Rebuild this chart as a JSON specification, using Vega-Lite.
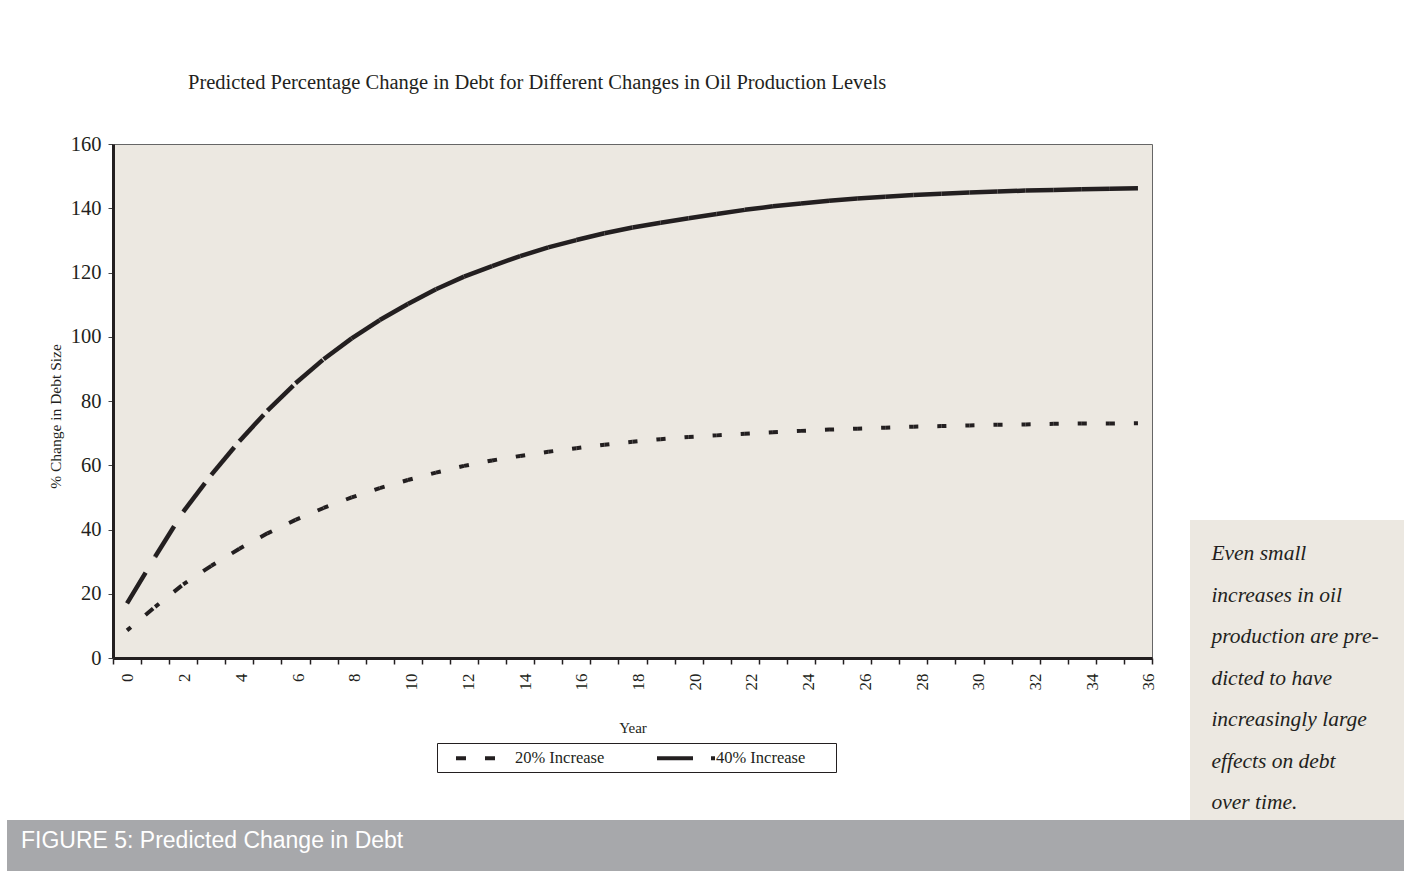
{
  "$schema": "https://vega.github.io/schema/vega-lite/v6.json",
  "background": "white",
  "padding": {"left": 7, "top": 72, "right": 0, "bottom": 0},
  "config": {"view": {"stroke": null}, "font": "Liberation Serif"},
  "spacing": 0,
  "vconcat": [
    {
      "spacing": 32,
      "hconcat": [
        {
          "width": 1039,
          "height": 514,
          "view": {"fill": "#ece8e1", "stroke": "#666666", "strokeWidth": 1},
          "title": {"text": "Predicted Percentage Change in Debt for Different Changes in Oil Production Levels", "anchor": "start", "frame": "group", "dx": 75, "offset": 41, "font": "Liberation Serif", "fontSize": 20.5, "fontWeight": "normal", "color": "#231f20"},
          "data": {"values": [
            {"series": "20% Increase", "year": 0, "value": 8.6},
            {"series": "20% Increase", "year": 1, "value": 15.9},
            {"series": "20% Increase", "year": 2, "value": 22.9},
            {"series": "20% Increase", "year": 3, "value": 28.7},
            {"series": "20% Increase", "year": 4, "value": 34.0},
            {"series": "20% Increase", "year": 5, "value": 38.8},
            {"series": "20% Increase", "year": 6, "value": 43.0},
            {"series": "20% Increase", "year": 7, "value": 46.7},
            {"series": "20% Increase", "year": 8, "value": 50.0},
            {"series": "20% Increase", "year": 9, "value": 52.9},
            {"series": "20% Increase", "year": 10, "value": 55.4},
            {"series": "20% Increase", "year": 11, "value": 57.7},
            {"series": "20% Increase", "year": 12, "value": 59.8},
            {"series": "20% Increase", "year": 13, "value": 61.5},
            {"series": "20% Increase", "year": 14, "value": 62.9},
            {"series": "20% Increase", "year": 15, "value": 64.2},
            {"series": "20% Increase", "year": 16, "value": 65.3},
            {"series": "20% Increase", "year": 17, "value": 66.4},
            {"series": "20% Increase", "year": 18, "value": 67.3},
            {"series": "20% Increase", "year": 19, "value": 68.1},
            {"series": "20% Increase", "year": 20, "value": 68.8},
            {"series": "20% Increase", "year": 21, "value": 69.3},
            {"series": "20% Increase", "year": 22, "value": 69.8},
            {"series": "20% Increase", "year": 23, "value": 70.3},
            {"series": "20% Increase", "year": 24, "value": 70.7},
            {"series": "20% Increase", "year": 25, "value": 71.1},
            {"series": "20% Increase", "year": 26, "value": 71.4},
            {"series": "20% Increase", "year": 27, "value": 71.7},
            {"series": "20% Increase", "year": 28, "value": 72.0},
            {"series": "20% Increase", "year": 29, "value": 72.2},
            {"series": "20% Increase", "year": 30, "value": 72.4},
            {"series": "20% Increase", "year": 31, "value": 72.6},
            {"series": "20% Increase", "year": 32, "value": 72.7},
            {"series": "20% Increase", "year": 33, "value": 72.9},
            {"series": "20% Increase", "year": 34, "value": 73.0},
            {"series": "20% Increase", "year": 35, "value": 73.0},
            {"series": "20% Increase", "year": 36, "value": 73.1},
            {"series": "40% Increase", "year": 0, "value": 17.0},
            {"series": "40% Increase", "year": 1, "value": 31.5},
            {"series": "40% Increase", "year": 2, "value": 45.5},
            {"series": "40% Increase", "year": 3, "value": 57.0},
            {"series": "40% Increase", "year": 4, "value": 67.5},
            {"series": "40% Increase", "year": 5, "value": 77.0},
            {"series": "40% Increase", "year": 6, "value": 85.5},
            {"series": "40% Increase", "year": 7, "value": 93.0},
            {"series": "40% Increase", "year": 8, "value": 99.5},
            {"series": "40% Increase", "year": 9, "value": 105.2},
            {"series": "40% Increase", "year": 10, "value": 110.2},
            {"series": "40% Increase", "year": 11, "value": 114.8},
            {"series": "40% Increase", "year": 12, "value": 118.7},
            {"series": "40% Increase", "year": 13, "value": 122.0},
            {"series": "40% Increase", "year": 14, "value": 125.1},
            {"series": "40% Increase", "year": 15, "value": 127.8},
            {"series": "40% Increase", "year": 16, "value": 130.1},
            {"series": "40% Increase", "year": 17, "value": 132.2},
            {"series": "40% Increase", "year": 18, "value": 134.0},
            {"series": "40% Increase", "year": 19, "value": 135.5},
            {"series": "40% Increase", "year": 20, "value": 136.9},
            {"series": "40% Increase", "year": 21, "value": 138.2},
            {"series": "40% Increase", "year": 22, "value": 139.5},
            {"series": "40% Increase", "year": 23, "value": 140.6},
            {"series": "40% Increase", "year": 24, "value": 141.5},
            {"series": "40% Increase", "year": 25, "value": 142.3},
            {"series": "40% Increase", "year": 26, "value": 143.0},
            {"series": "40% Increase", "year": 27, "value": 143.6},
            {"series": "40% Increase", "year": 28, "value": 144.1},
            {"series": "40% Increase", "year": 29, "value": 144.5},
            {"series": "40% Increase", "year": 30, "value": 144.9},
            {"series": "40% Increase", "year": 31, "value": 145.2},
            {"series": "40% Increase", "year": 32, "value": 145.5},
            {"series": "40% Increase", "year": 33, "value": 145.7},
            {"series": "40% Increase", "year": 34, "value": 145.9},
            {"series": "40% Increase", "year": 35, "value": 146.1},
            {"series": "40% Increase", "year": 36, "value": 146.2}
          ]},
          "layer": [
            {
              "transform": [
                {"window": [{"op": "lead", "field": "value", "as": "nextValue"}, {"op": "lead", "field": "year", "as": "nextYear"}], "groupby": ["series"], "sort": [{"field": "year"}]},
                {"filter": "datum.nextYear != null"},
                {"filter": "datum.series == '20% Increase'"}
              ],
              "mark": {"type": "rule", "strokeWidth": 4, "strokeCap": "butt", "strokeDashOffset": 5, "color": "#231f20"},
              "encoding": {
                "x": {"field": "year", "type": "quantitative", "scale": {"domain": [-0.5, 36.5], "nice": false, "zero": false},
                  "axis": {"orient": "bottom", "values": [-0.5, 0.5, 1.5, 2.5, 3.5, 4.5, 5.5, 6.5, 7.5, 8.5, 9.5, 10.5, 11.5, 12.5, 13.5, 14.5, 15.5, 16.5, 17.5, 18.5, 19.5, 20.5, 21.5, 22.5, 23.5, 24.5, 25.5, 26.5, 27.5, 28.5, 29.5, 30.5, 31.5, 32.5, 33.5, 34.5, 35.5, 36.5], "labels": false, "ticks": true, "tickSize": 6, "tickColor": "#231f20", "tickWidth": 1.5, "domainColor": "#231f20", "domainWidth": 3, "grid": false, "title": null}},
                "x2": {"field": "nextYear"},
                "y": {"field": "value", "type": "quantitative", "scale": {"domain": [0, 160], "nice": false},
                  "axis": {"orient": "left", "values": [0, 20, 40, 60, 80, 100, 120, 140, 160], "labelFont": "Liberation Serif", "labelFontSize": 20.5, "labelColor": "#231f20", "labelPadding": 7, "tickSize": 5, "tickColor": "#444444", "tickWidth": 1, "domainColor": "#231f20", "domainWidth": 3, "grid": false, "title": "% Change in Debt Size", "titleFont": "Liberation Serif", "titleFontSize": 15.5, "titleFontWeight": "normal", "titleColor": "#231f20", "titlePadding": 7, "titleY": 272}},
                "y2": {"field": "nextValue"},
                "strokeDash": {"field": "series", "type": "nominal", "scale": {"domain": ["20% Increase", "40% Increase"], "range": [[10, 19], [36, 18]]},
                  "legend": {"orient": "none", "legendX": 324, "legendY": 599, "direction": "horizontal", "title": "x", "titleOrient": "right", "titleColor": "transparent", "titleFontSize": 10, "titlePadding": 21, "symbolType": "M-3.625,0H3.625", "symbolSize": 256, "symbolStrokeWidth": 4, "symbolStrokeColor": "#231f20", "labelFont": "Liberation Serif", "labelFontSize": 16.5, "labelColor": "#231f20", "labelOffset": 20, "columnPadding": 38, "padding": 5, "strokeColor": "#231f20", "fillColor": "white", "symbolOffset": 33}}
              }
            },
            {
              "transform": [
                {"window": [{"op": "lead", "field": "value", "as": "nextValue"}, {"op": "lead", "field": "year", "as": "nextYear"}], "groupby": ["series"], "sort": [{"field": "year"}]},
                {"filter": "datum.nextYear != null"},
                {"filter": "datum.series == '40% Increase'"}
              ],
              "mark": {"type": "rule", "strokeWidth": 4.5, "strokeCap": "butt", "color": "#231f20"},
              "encoding": {
                "x": {"field": "year", "type": "quantitative", "scale": {"domain": [-0.5, 36.5], "nice": false, "zero": false}, "axis": null},
                "x2": {"field": "nextYear"},
                "y": {"field": "value", "type": "quantitative", "scale": {"domain": [0, 160], "nice": false}, "axis": null},
                "y2": {"field": "nextValue"},
                "strokeDash": {"field": "series", "type": "nominal"}
              }
            },
            {
              "mark": {"type": "point", "opacity": 0},
              "encoding": {
                "x": {"field": "year", "type": "quantitative", "scale": {"domain": [-0.528, 36.106], "nice": false, "zero": false},
                  "axis": {"orient": "bottom", "values": [0, 2, 4, 6, 8, 10, 12, 14, 16, 18, 20, 22, 24, 26, 28, 30, 32, 34, 36], "ticks": false, "domain": false, "grid": false, "labelAngle": 270, "labelFlush": false, "labelOverlap": false, "labelFont": "Liberation Serif", "labelFontSize": 17, "labelColor": "#231f20", "labelPadding": 15, "title": "Year", "titleFont": "Liberation Serif", "titleFontSize": 15, "titleFontWeight": "normal", "titleColor": "#231f20", "titlePadding": 30}},
                "y": {"field": "value", "type": "quantitative", "scale": {"domain": [0, 160], "nice": false},
                  "axis": {"orient": "left", "labels": false, "ticks": false, "domain": false, "grid": false, "title": "x", "titleColor": "transparent", "titleFontSize": 10, "titlePadding": 95}}
              }
            }
          ],
          "resolve": {"scale": {"x": "independent", "y": "independent"}, "axis": {"x": "independent", "y": "independent"}}
        },
        {
          "spacing": 0,
          "vconcat": [
            {
              "width": 214,
              "height": 376,
              "data": {"values": []},
              "mark": "point",
              "view": {"fill": null, "stroke": null}
            },
            {
              "width": 214,
              "height": 300,
              "view": {"fill": "#ece8e1", "stroke": null},
              "data": {"values": [
                {"line": 1, "text": "Even small"},
                {"line": 2, "text": "increases in oil"},
                {"line": 3, "text": "production are pre-"},
                {"line": 4, "text": "dicted to have"},
                {"line": 5, "text": "increasingly large"},
                {"line": 6, "text": "effects on debt"},
                {"line": 7, "text": "over time."}
              ]},
              "mark": {"type": "text", "font": "Liberation Serif", "fontStyle": "italic", "fontSize": 21.5, "align": "left", "baseline": "alphabetic", "color": "#231f20"},
              "encoding": {
                "x": {"datum": 0, "type": "quantitative", "scale": {"domain": [-0.1, 0.9], "nice": false, "zero": false}, "axis": null},
                "y": {"field": "line", "type": "quantitative", "scale": {"domain": [0.036, 7.265], "reverse": true, "nice": false, "zero": false}, "axis": null},
                "text": {"field": "text"}
              }
            }
          ]
        }
      ]
    },
    {
      "width": 1291,
      "height": 51,
      "view": {"fill": null, "stroke": null},
      "data": {"values": [{"caption": "FIGURE 5: Predicted Change in Debt"}]},
      "layer": [
        {
          "mark": {"type": "rect", "color": "#a7a8ab", "clip": false},
          "encoding": {
            "x": {"datum": 0, "type": "quantitative", "scale": {"domain": [0, 1], "range": [-106, 1291], "nice": false, "zero": false}, "axis": null},
            "x2": {"datum": 1},
            "y": {"datum": 0, "type": "quantitative", "scale": {"domain": [0, 1], "nice": false, "zero": false}, "axis": null},
            "y2": {"datum": 1}
          }
        },
        {
          "mark": {"type": "text", "font": "Liberation Sans", "fontSize": 23, "color": "white", "align": "left", "baseline": "alphabetic", "clip": false},
          "encoding": {
            "x": {"datum": 0.01, "type": "quantitative"},
            "y": {"datum": 0.451, "type": "quantitative"},
            "text": {"field": "caption"}
          }
        }
      ]
    }
  ]
}
